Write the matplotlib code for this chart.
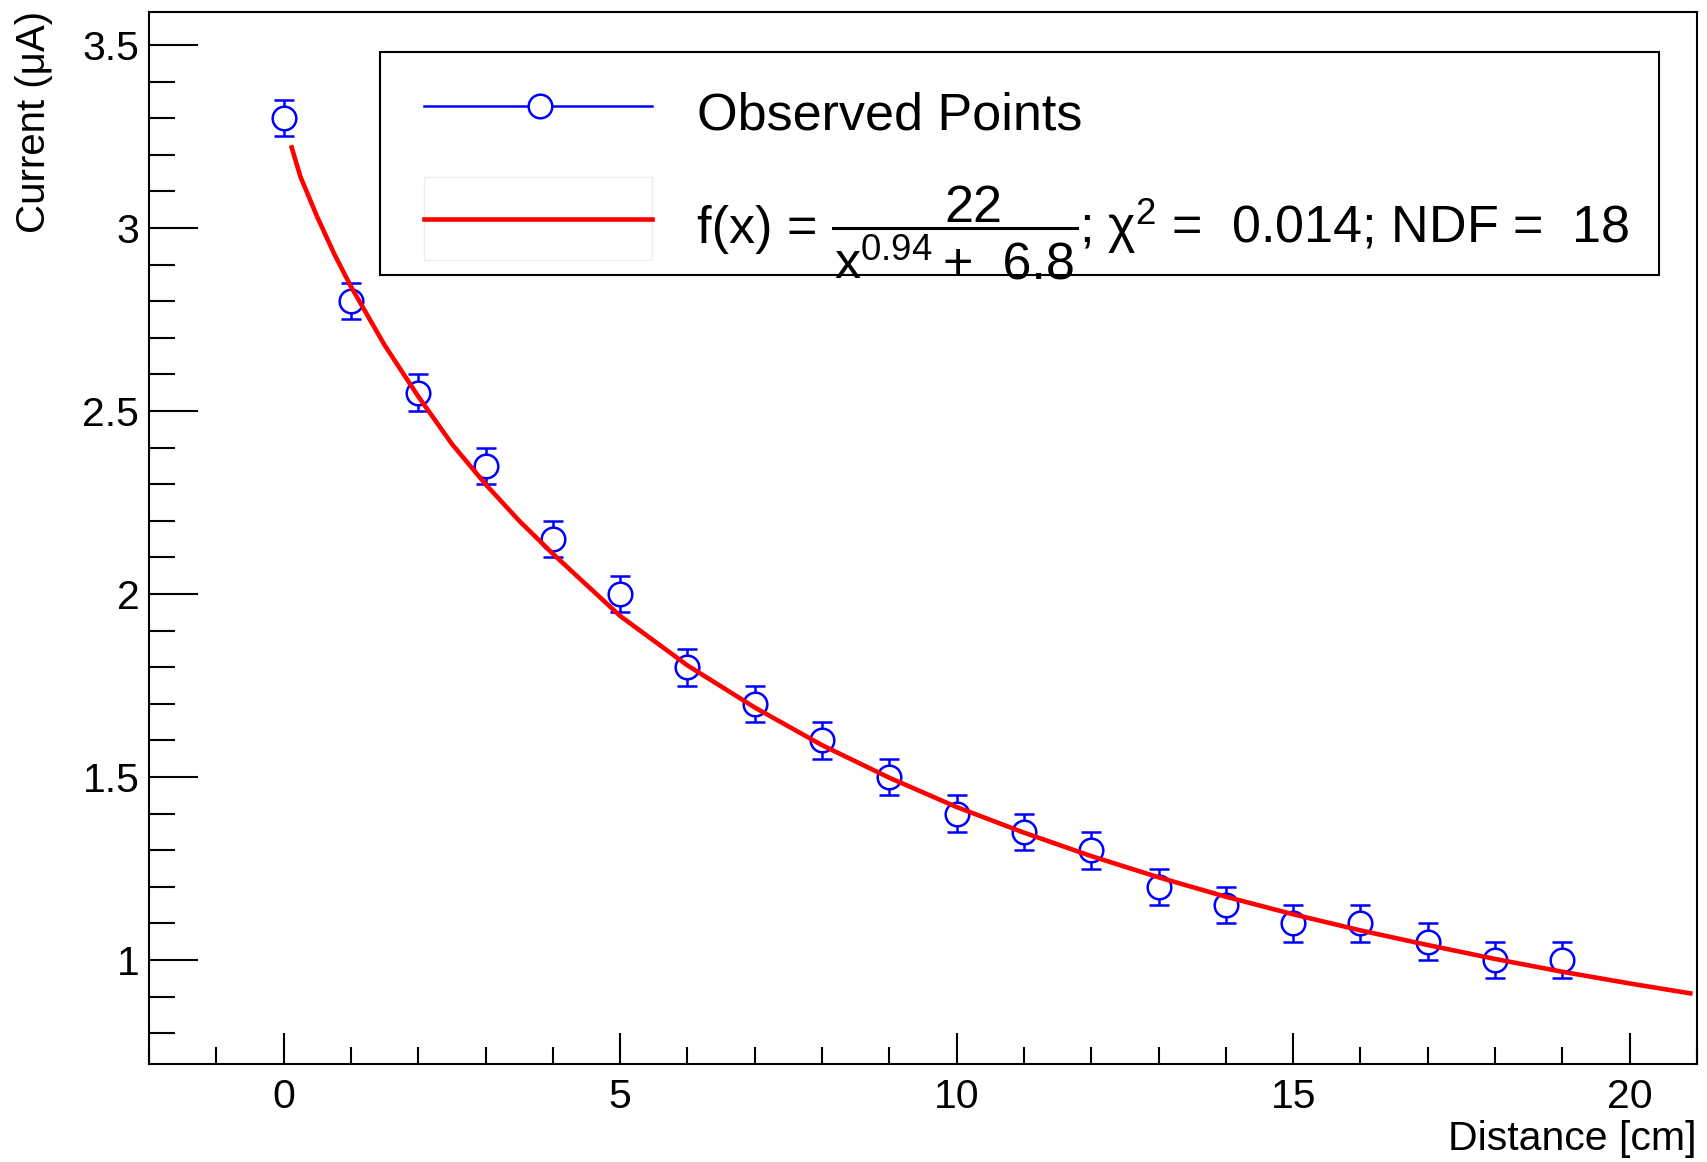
import matplotlib
matplotlib.use("Agg")
import matplotlib.pyplot as plt
from matplotlib.lines import Line2D
from matplotlib.patches import Rectangle
from matplotlib.ticker import MultipleLocator, FuncFormatter

# measured points
distance = [0, 1, 2, 3, 4, 5, 6, 7, 8, 9, 10, 11, 12, 13, 14, 15, 16, 17, 18, 19]
current = [3.30, 2.80, 2.55, 2.35, 2.15, 2.00, 1.80, 1.70, 1.60, 1.50,
           1.40, 1.35, 1.30, 1.20, 1.15, 1.10, 1.10, 1.05, 1.00, 1.00]
current_err = [0.05] * len(distance)

# fit curve
fit_x = [0.12, 0.25, 0.5, 0.75, 1, 1.5, 2, 2.5, 3, 3.5, 4, 5, 6, 7, 8, 9, 10,
         11, 12, 13, 14, 15, 16, 17, 18, 19, 20, 20.9]
fit_y = [3.22, 3.14, 3.03, 2.93, 2.84, 2.68, 2.54, 2.41, 2.30, 2.20, 2.11,
         1.94, 1.805, 1.69, 1.587, 1.498, 1.418, 1.348, 1.284, 1.226, 1.173,
         1.125, 1.081, 1.041, 1.003, 0.968, 0.936, 0.909]

plt.rcParams['font.family'] = ['Liberation Sans', 'DejaVu Sans']
plt.rcParams['mathtext.fontset'] = 'custom'
plt.rcParams['mathtext.rm'] = 'Liberation Sans'
plt.rcParams['mathtext.it'] = 'Liberation Sans'

W, H = 1707, 1162
fig = plt.figure(figsize=(W / 100, H / 100), dpi=100)
ax = fig.add_axes([149 / W, 1 - 1064 / H, (1697 - 149) / W, (1064 - 12) / H])


def fx(px):
    return px / W


def fy(py):
    return 1 - py / H


ax.errorbar(distance, current, yerr=current_err, fmt='o', color='blue',
            mfc='white', mec='blue', ms=17, mew=1.8, elinewidth=1.8,
            capsize=7, capthick=1.8, zorder=2)
ax.plot(fit_x, fit_y, color='red', lw=3.3, zorder=3)

ax.set_xlim(-2, 21)
ax.set_ylim(0.716, 3.59)

ax.xaxis.set_major_locator(MultipleLocator(5))
ax.xaxis.set_minor_locator(MultipleLocator(1))
ax.yaxis.set_major_locator(MultipleLocator(0.5))
ax.yaxis.set_minor_locator(MultipleLocator(0.1))
ax.yaxis.set_major_formatter(FuncFormatter(lambda v, p: f"{v:g}"))

ax.tick_params(direction='in', top=False, right=False, width=1.5, labelsize=29.5)
ax.tick_params(axis='y', which='major', length=35, pad=7)
ax.tick_params(axis='y', which='minor', length=19, width=1.5)
ax.tick_params(axis='x', which='major', length=22, pad=10)
ax.tick_params(axis='x', which='minor', length=12, width=1.5)
ax.tick_params(which='minor', top=False, right=False, direction='in')
for s in ax.spines.values():
    s.set_linewidth(1.5)

fig.text(fx(34), fy(11), 'Current (μA)', rotation=90, ha='center', va='top', size=29)
fig.text(fx(1697), fy(1150), 'Distance [cm]', ha='right', va='baseline', size=29.5)

# legend box
fig.add_artist(Rectangle((fx(380), fy(275)), (1659 - 380) / W, (275 - 52) / H,
                         transform=fig.transFigure, fc='white', ec='black',
                         lw=1.5, zorder=5))
fig.add_artist(Line2D([fx(424), fx(652)], [fy(106), fy(106)], color='blue',
                      lw=1.8, transform=fig.transFigure, zorder=6))
fig.add_artist(Line2D([fx(540)], [fy(106)], marker='o', ms=17, mfc='white',
                      mec='blue', mew=1.8, transform=fig.transFigure, zorder=7))
fig.add_artist(Rectangle((fx(424), fy(260)), (652 - 424) / W, (260 - 177) / H,
                         transform=fig.transFigure, fc='white', ec='#eeeeee',
                         lw=1, zorder=6))
fig.add_artist(Line2D([fx(424), fx(652)], [fy(219), fy(219)], color='red',
                      lw=3.3, transform=fig.transFigure, zorder=7))

tk = dict(size=37.5, va='baseline', zorder=8)
fig.text(fx(697), fy(130), 'Observed Points', **tk)
fig.text(fx(697), fy(243), 'f(x) =', **tk)
fig.text(fx(973), fy(222), '22', ha='center', **tk)
fig.add_artist(Line2D([fx(833), fx(1077)], [fy(228), fy(228)], color='black',
                      lw=2.2, transform=fig.transFigure, zorder=8))
fig.text(fx(834), fy(279), r'$\mathregular{x^{0.94}}$', **tk)
fig.text(fx(943), fy(279), '+  6.8', **tk)
fig.text(fx(1079), fy(243), r'; $\mathregular{\chi^{2}}$ =  0.014; NDF =  18', **tk)

fig.savefig('out.png', dpi=100)
